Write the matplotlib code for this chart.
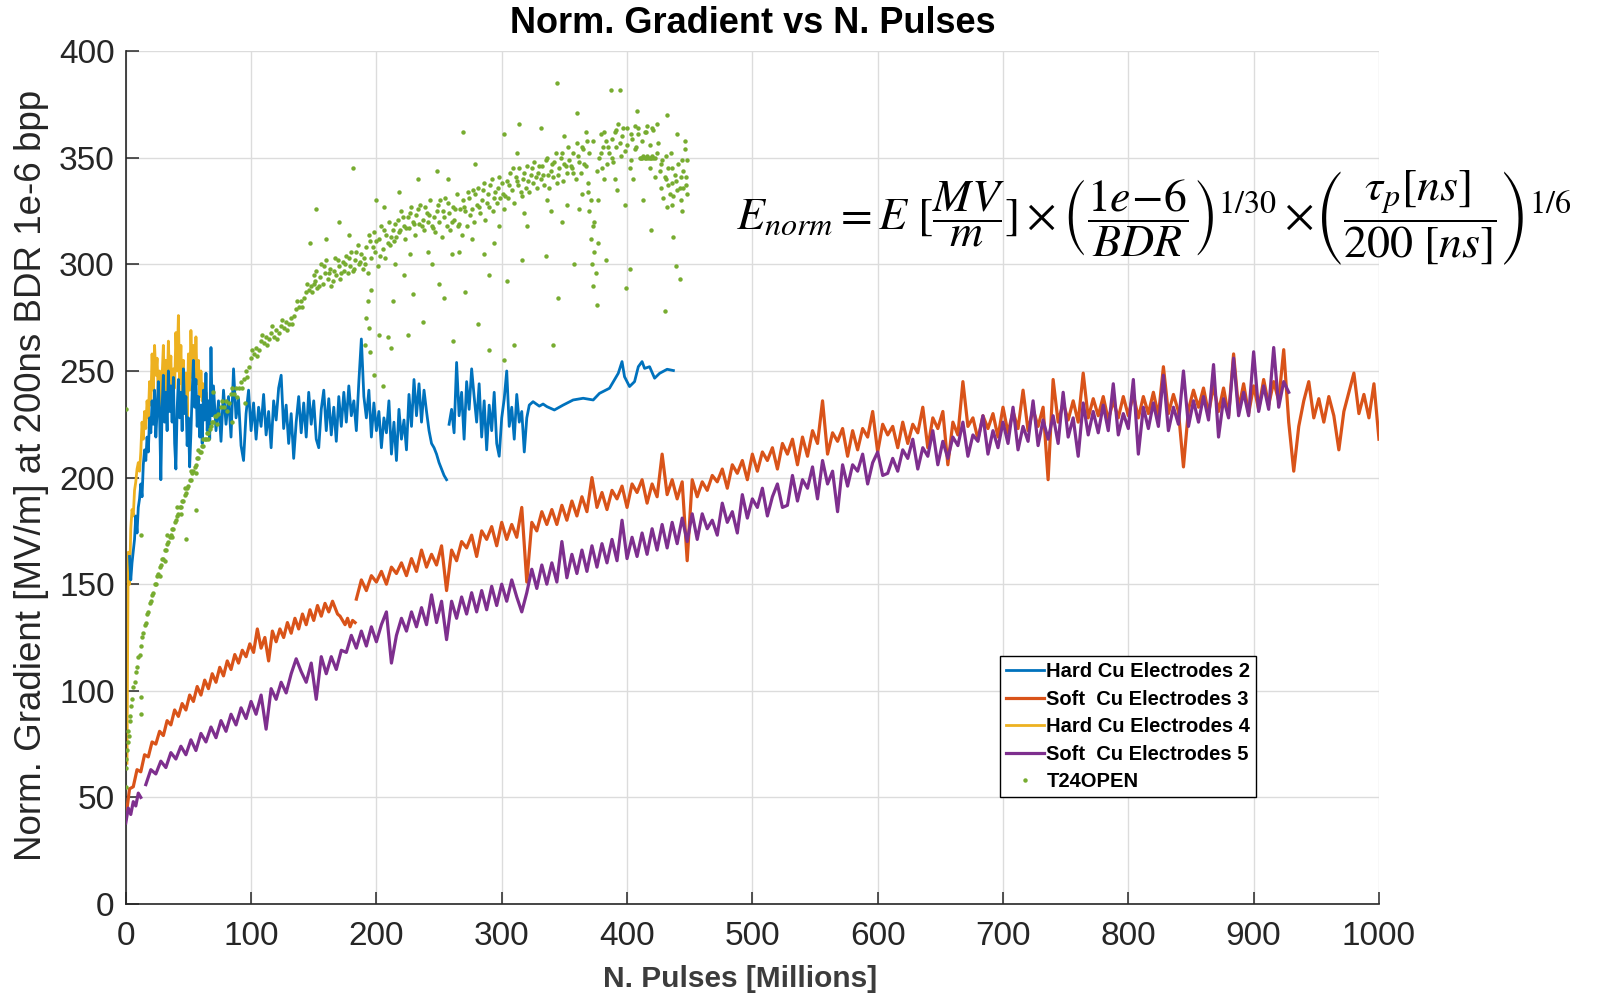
import numpy as np
import matplotlib
matplotlib.use("Agg")
import matplotlib.pyplot as plt

nan = np.nan

# ---- data (x in millions of pulses, y in MV/m) ----

# Hard Cu Electrodes 2
hard2_x = [3, 4, 5,
           7, 8, 9, 10, 11, 12, 13, 14, 15, 16, 17, 18, 19, 20, 21, 22, 23, 24, 25, 26, 27, 28, 29, 30,
           31, 32, 33, 34, 35, 36, 37, 38, 39, 40, 41, 42, 43, 44, 45, 46, 47, 48, 49, 50, 51, 52, 53,
           54, 55, 56, 57, 58, 59, 60, 61, 62, 63, 64, 65, 66, 67, 68, 69,
           70, 72, 74, 76, 78, 80, 82, 84, 86, 88, 90, 92, 94, 96, 98, 100, 102, 104, 106, 108,
           110, 112, 114, 116, 118, 120, 122, 124, 126, 128, 130, 132, 134, 136, 138, 140, 142, 144, 146, 148,
           150, 152, 154, 156, 158, 160, 162, 164, 166, 168, 170, 172, 174, 176, 178, 180, 182, 184, 186, 188,
           190, 192, 194, 196, 198, 200, 202, 204, 206, 208, 210, 212, 214, 216, 218, 220, 222, 224, 226, 228,
           230, 232, 234, 236, 238, 240,
           242, 244, 246, 248, 250, 252, 254, 256,
           nan,
           258, 260, 262, 264, 266, 268, 270, 272, 274, 276, 278, 280, 282, 284, 286, 288, 290, 292, 294, 296,
           298, 300, 302, 304, 306, 308, 310, 312, 314, 316, 318, 320,
           322, 325, 330, 333, 336, 342, 349, 357, 365, 373, 378, 386, 393, 396, 398, 402, 406, 409, 412, 414,
           418, 422, 426, 432, 437]
hard2_y = [163, 152, 160,
           171, 182, 174, 186, 190, 197, 191, 206, 213, 208, 219, 212, 228, 221, 236, 225, 241, 219, 231, 245, 229, 199, 233, 248,
           226, 240, 222, 250, 231, 243, 226, 247, 216, 204, 232, 246, 228, 240, 222, 251, 230, 238, 215, 228, 205, 221, 240,
           255, 233, 246, 224, 238, 219, 234, 216, 241, 227, 249, 222, 236, 218, 261, 229,
           243, 222, 236, 217, 241, 225, 238, 219, 251, 228, 237, 215, 208, 230, 241, 222, 235, 218, 233, 224,
           239, 220, 231, 214, 236, 227, 242, 248, 223, 234, 216, 230, 209, 226, 238, 221, 235, 219, 240, 225,
           236, 218, 214, 232, 241, 222, 237, 220, 233, 217, 238, 224, 240, 226, 243, 229, 236, 222, 245, 265,
           238, 228, 241, 219, 235, 222, 231, 214, 228, 221, 236, 211, 226, 208, 232, 218, 227, 213, 239, 224,
           246, 229, 244, 226, 241, 231,
           222, 216, 214, 211, 207, 204, 201, 199,
           nan,
           225, 232, 221, 254, 229, 240, 218, 245, 232, 251, 238, 226, 244, 219, 236, 213, 234, 222, 240, 216,
           210, 228, 237, 250, 224, 233, 218, 239, 226, 231, 212, 228,
           234, 235.6, 233.5, 234.5, 233.3, 231.7, 234, 236.4, 237.2, 236.4, 239.5, 241.9, 248.9, 254.4, 247.3, 242.7, 245, 252, 254.4, 251.2,
           252, 246.6, 248.9, 250.8, 250.2]

# Soft Cu Electrodes 3
soft3_x = [0, 3, 6, 9, 12, 15, 18, 21, 24, 27, 30, 33, 36, 39, 42, 45, 48, 51, 54, 57,
           60, 63, 66, 69, 72, 75, 78, 81, 84, 87, 90, 93, 96, 99, 102, 105, 108, 111, 114, 117,
           120, 123, 126, 129, 132, 135, 138, 141, 144, 147, 150, 153, 156, 159, 162, 165,
           167, 169, 171, 173, 175, 177, 179, 181, 183,
           nan,
           184, 188, 192, 196, 200, 204, 208, 212, 216, 220,
           224, 228, 232, 236, 240, 244, 248, 252, 256, 260,
           264, 268, 272, 276, 280, 284, 288, 292, 296, 300,
           304, 308, 312, 316, 320, 324, 328, 332, 336, 340,
           344, 348, 352, 356, 360, 364, 368, 372, 376, 380,
           384, 388, 392, 396, 400, 404, 408, 412, 416, 420,
           424, 428, 432, 436, 440, 444, 448, 452, 456, 460,
           464, 468, 472, 476, 480, 484, 488, 492, 496, 500,
           504, 508, 512, 516, 520, 524, 528, 532, 536, 540,
           544, 548, 552, 556, 560, 564, 568, 572, 576, 580,
           584, 588, 592, 596, 600, 604, 608, 612, 616, 620,
           624, 628, 632, 636, 640, 644, 648, 652, 656, 660,
           664, 668, 672, 676, 680, 684, 688, 692, 696, 700,
           704, 708, 712, 716, 720, 724, 728, 732, 736, 740,
           744, 748, 752, 756, 760, 764, 768, 772, 776, 780,
           784, 788, 792, 796, 800, 804, 808, 812, 816, 820,
           824, 828, 832, 836, 840, 844, 848, 852, 856, 860,
           864, 868, 872, 876, 880, 884, 888, 892, 896, 900,
           904, 908, 912, 916, 920, 924, 928, 932, 936, 940,
           944, 948, 952, 956, 960, 964, 968, 972, 976, 980,
           984, 988, 992, 996, 1000]
soft3_y = [40, 54, 55, 63, 62, 70, 69, 76, 75, 81, 79, 86, 84, 91, 88, 94, 91, 98, 95, 102,
           98, 105, 101, 108, 104, 111, 107, 114, 110, 117, 113, 119, 116, 122, 118, 129, 120, 125, 114, 128,
           123, 129, 125, 132, 127, 134, 129, 136, 131, 138, 133, 140, 135, 141, 137, 142,
           139, 136, 135, 133, 131, 134, 130, 133, 132,
           nan,
           143, 152, 147, 154, 151, 156, 150, 158, 155, 160,
           154, 162, 156, 166, 158, 164, 159, 168, 147, 166,
           161, 170, 167, 173, 163, 175, 171, 177, 168, 179,
           171, 178, 172, 186, 151, 179, 175, 184, 178, 185,
           178, 187, 180, 189, 182, 191, 184, 200, 186, 193,
           185, 194, 190, 196, 186, 197, 193, 199, 188, 197,
           191, 211, 192, 199, 190, 198, 161, 199, 191, 198,
           194, 201, 198, 204, 195, 206, 202, 208, 199, 211,
           203, 212, 208, 214, 204, 216, 211, 218, 206, 219,
           210, 222, 216, 236, 211, 221, 217, 223, 210, 222,
           213, 223, 219, 231, 212, 225, 220, 224, 214, 226,
           216, 225, 221, 233, 214, 228, 223, 231, 206, 226,
           220, 245, 224, 228, 218, 229, 223, 230, 219, 233,
           221, 231, 223, 241, 222, 232, 224, 233, 199, 246,
           226, 235, 227, 236, 226, 249, 228, 237, 229, 238,
           227, 236, 228, 238, 229, 239, 228, 238, 230, 240,
           229, 252, 230, 239, 231, 205, 232, 241, 233, 242,
           230, 243, 231, 242, 229, 258, 232, 244, 230, 243,
           232, 246, 234, 245, 236, 260, 226, 203, 224, 236,
           245, 228, 237, 226, 238, 229, 213, 231, 240, 249,
           230, 239, 228, 244, 218]

# Hard Cu Electrodes 4
hard4_x = [1, 1.5, 2, 3, 4, 5, 6, 7, 8, 9, 10, 11, 12, 13, 14, 15, 16, 17, 18, 19, 20,
           21, 22, 23, 24, 25, 26, 27, 28, 29, 30, 31, 32, 33, 34, 35, 36, 37, 38, 39, 40,
           41, 42, 43, 44, 45, 46, 47, 48, 49, 50, 51, 52, 53, 54, 55, 56, 57, 58, 59, 60,
           61, 62, 63, 64, 65]
hard4_y = [66, 120, 165, 150, 176, 185, 182, 194, 198, 204, 207, 203, 212, 226, 218, 231, 223, 236, 228, 245, 234,
           258, 241, 262, 248, 256, 238, 250, 233, 247, 262, 240, 255, 238, 264, 246, 257, 231, 251, 242, 268,
           250, 276, 244, 262, 236, 255, 233, 249, 228, 258, 241, 269, 247, 262, 240, 266, 244, 255, 238, 250,
           236, 244, 232, 240, 234]

# Soft Cu Electrodes 5
soft5_x = [0, 2, 4, 6, 8, 10, 12,
           nan,
           16, 20, 24, 28, 32, 36, 40, 44, 48, 52,
           56, 60, 64, 68, 72, 76, 80, 84, 88, 92,
           96, 100, 104, 108, 112, 116, 120, 124, 128, 132,
           136, 140, 144, 148, 152, 156, 160, 164, 168, 172,
           176, 180, 184, 188, 192, 196, 200, 204, 208, 212,
           216, 220, 224, 228, 232, 236, 240, 244, 248, 252,
           256, 260, 264, 268, 272, 276, 280, 284, 288, 292,
           296, 300, 304, 308, 312, 316, 320, 324, 328, 332,
           336, 340, 344, 348, 352, 356, 360, 364, 368, 372,
           376, 380, 384, 388, 392, 396, 400, 404, 408, 412,
           416, 420, 424, 428, 432, 436, 440, 444, 448, 452,
           456, 460, 464, 468, 472, 476, 480, 484, 488, 492,
           496, 500, 504, 508, 512, 516, 520, 524, 528, 532,
           536, 540, 544, 548, 552, 556, 560, 564, 568, 572,
           576, 580, 584, 588, 592, 596, 600, 604, 608, 612,
           616, 620, 624, 628, 632, 636, 640, 644, 648, 652,
           656, 660, 664, 668, 672, 676, 680, 684, 688, 692,
           696, 700, 704, 708, 712, 716, 720, 724, 728, 732,
           736, 740, 744, 748, 752, 756, 760, 764, 768, 772,
           776, 780, 784, 788, 792, 796, 800, 804, 808, 812,
           816, 820, 824, 828, 832, 836, 840, 844, 848, 852,
           856, 860, 864, 868, 872, 876, 880, 884, 888, 892,
           896, 900, 904, 908, 912, 916, 920, 924, 928]
soft5_y = [38, 45, 42, 48, 46, 52, 50,
           nan,
           56, 63, 61, 67, 64, 71, 68, 74, 70, 77,
           72, 80, 76, 83, 78, 86, 81, 89, 84, 92,
           87, 95, 89, 98, 82, 101, 96, 104, 99, 108,
           115, 109, 104, 113, 96, 116, 108, 116, 110, 119,
           118, 126, 120, 128, 121, 130, 123, 131, 137, 113,
           126, 134, 128, 137, 130, 139, 131, 145, 132, 142,
           124, 142, 134, 144, 136, 146, 137, 147, 138, 149,
           140, 150, 142, 152, 144, 137, 146, 157, 148, 159,
           150, 160, 151, 170, 153, 164, 155, 166, 156, 168,
           158, 169, 160, 171, 161, 180, 162, 172, 163, 174,
           164, 176, 166, 178, 167, 179, 169, 181, 170, 183,
           171, 183, 176, 180, 173, 188, 179, 184, 174, 192,
           181, 190, 186, 195, 182, 191, 197, 186, 187, 201,
           189, 199, 195, 205, 190, 208, 197, 203, 184, 206,
           196, 206, 203, 211, 197, 207, 212, 201, 202, 209,
           203, 213, 209, 218, 204, 214, 210, 222, 206, 217,
           209, 219, 215, 226, 210, 220, 217, 229, 211, 222,
           214, 226, 216, 233, 213, 224, 217, 236, 215, 227,
           218, 229, 216, 240, 219, 228, 210, 235, 220, 231,
           221, 234, 222, 244, 220, 230, 223, 246, 211, 233,
           223, 235, 224, 248, 222, 233, 225, 250, 224, 236,
           226, 238, 227, 253, 219, 237, 228, 256, 229, 240,
           229, 259, 231, 243, 232, 261, 233, 245, 240]

# T24OPEN (scattered points)
t24_pts = [
    (0, 55), (0, 64), (0.5, 68), (1, 72), (1.5, 76), (2, 81), (2.5, 79), (3, 86), (3.5, 88), (4, 93),
    (5, 96), (6, 102), (7, 104), (8, 109), (9, 111), (10, 116), (11, 117), (12, 121), (13, 125), (14, 127),
    (15, 131), (16, 132), (17, 136), (18, 137), (19, 141), (20, 142), (21, 145), (22, 146), (23, 150), (24, 150),
    (25, 154), (26, 155), (27, 158), (28, 159), (29, 162), (30, 162), (31, 166), (32, 166), (33, 169), (34, 170),
    (35, 172), (36, 173), (37, 176), (38, 176), (39, 179), (40, 180), (41, 182), (42, 183), (43, 186), (44, 186),
    (45, 189), (46, 189), (47, 192), (48, 193), (49, 195), (50, 196), (51, 199), (52, 199), (53, 202), (54, 203),
    (55, 205), (56, 206), (57, 209), (58, 209), (59, 212), (60, 212), (61, 215), (62, 215), (63, 218), (64, 218),
    (65, 221), (66, 221), (67, 223), (68, 224), (69, 226), (70, 226), (72, 229), (74, 230), (76, 233), (78, 233),
    (80, 236), (82, 235), (84, 239), (86, 239), (88, 242), (90, 242), (92, 245), (94, 246), (96, 250), (98, 252),
    (100, 256), (102, 258), (104, 261), (106, 260), (108, 264), (110, 263), (112, 266), (114, 265), (116, 268), (118, 266),
    (120, 269), (122, 268), (124, 271), (126, 270), (128, 273), (130, 272), (132, 275), (134, 276), (136, 279), (138, 280),
    (140, 283), (142, 284), (144, 287), (146, 288), (148, 290), (150, 291),
    (31, 161), (33, 173), (37, 172), (41, 186), (44, 183), (47, 195), (52, 203), (56, 202), (58, 213), (62, 218),
    (66, 218), (71, 229), (73, 225), (77, 236), (81, 231), (85, 242), (89, 238), (93, 242), (97, 247), (101, 260),
    (105, 257), (109, 267), (113, 262), (117, 271), (121, 265), (125, 274), (129, 269), (133, 272), (137, 283), (141, 280),
    (145, 291), (149, 287),
    (0, 232), (12, 97), (12, 89), (12, 173), (27, 154), (48, 171), (56, 185), (85, 226), (95, 235), (70, 240),
    (151, 292), (152, 297), (153, 289), (155, 294), (156, 300), (157, 291), (159, 296), (160, 302), (161, 293), (163, 298),
    (164, 290), (166, 297), (167, 303), (168, 295), (170, 299), (171, 293), (173, 301), (174, 297), (176, 304), (177, 296),
    (179, 299), (180, 306), (182, 298), (183, 302), (185, 309), (186, 300), (188, 305), (189, 298), (152, 326), (147, 310),
    (181, 345), (170, 320), (160, 312), (178, 314),
    (191, 300), (192, 308), (193, 296), (195, 311), (196, 303), (198, 315), (199, 306), (201, 299), (202, 312), (204, 318),
    (205, 307), (207, 303), (208, 314), (210, 320), (211, 309), (213, 316), (214, 311), (192, 275), (191, 262), (195, 259),
    (198, 248), (202, 267), (205, 243), (209, 266), (212, 261), (193, 283), (194, 270), (196, 288), (200, 330), (206, 327),
    (213, 283),
    (216, 313), (217, 321), (219, 316), (220, 325), (222, 318), (223, 312), (225, 322), (226, 317), (228, 327), (229, 320),
    (231, 314), (232, 323), (234, 319), (235, 328), (237, 321), (238, 316), (240, 324), (241, 320), (243, 330), (244, 318),
    (225, 267), (229, 286), (237, 273), (218, 334), (233, 340), (227, 305), (241, 306),
    (246, 322), (247, 315), (249, 328), (250, 320), (252, 313), (253, 325), (255, 331), (256, 318), (258, 324), (259, 316),
    (261, 327), (262, 321), (264, 333), (265, 318), (267, 326), (268, 314), (269, 330), (250, 291), (254, 284), (261, 264),
    (266, 306), (257, 340), (269, 362), (248, 344),
    (271, 325), (272, 318), (274, 331), (275, 323), (277, 335), (278, 320), (280, 328), (281, 336), (283, 324), (284, 330),
    (286, 338), (287, 321), (289, 333), (290, 327), (292, 340), (293, 325), (295, 334), (296, 329), (298, 341), (299, 331),
    (271, 287), (281, 272), (290, 260), (290, 295), (279, 347), (294, 310), (286, 305),
    (301, 333), (302, 326), (304, 339), (305, 331), (307, 343), (308, 335), (310, 329), (311, 341), (313, 337), (314, 345),
    (316, 332), (317, 340), (319, 336), (320, 346), (322, 334), (323, 342), (325, 338), (326, 348), (328, 336), (329, 343),
    (302, 255), (304, 292), (310, 262), (316, 302), (314, 366), (302, 361), (320, 318), (312, 352),
    (331, 340), (332, 346), (334, 337), (335, 349), (337, 342), (338, 336), (340, 347), (341, 341), (343, 352), (344, 338),
    (346, 345), (347, 350), (349, 339), (350, 347), (352, 343), (353, 355), (355, 346), (331, 364), (335, 304), (341, 262),
    (344, 385), (345, 284), (339, 325), (350, 360), (348, 320),
    (356, 345), (357, 352), (359, 340), (360, 357), (362, 348), (363, 343), (365, 354), (366, 347), (368, 358), (369, 338),
    (370, 325), (371, 312), (372, 300), (373, 318), (374, 306), (375, 296), (376, 281), (377, 330), (378, 350), (379, 361),
    (380, 345), (381, 355), (382, 340), (383, 358), (384, 347), (358, 300), (383, 302), (360, 371), (364, 333), (367, 362),
    (386, 352), (387, 382), (388, 359), (389, 348), (390, 362), (391, 355), (393, 366), (394, 382), (395, 351), (396, 360),
    (398, 353), (399, 289), (400, 364), (402, 298), (403, 349), (404, 359), (406, 365), (407, 355), (409, 361), (410, 350),
    (392, 335), (398, 328), (405, 340), (408, 372),
    (411, 350), (412, 350), (413, 351), (414, 350), (415, 350), (416, 351), (417, 350), (418, 350), (419, 350), (420, 351),
    (421, 350), (422, 350), (414, 362), (416, 365), (418, 345), (420, 364), (422, 341), (424, 366), (413, 330), (419, 316),
    (426, 344), (427, 336), (428, 349), (429, 331), (430, 278), (431, 340), (432, 370), (433, 345), (434, 333), (435, 352),
    (436, 338), (437, 313), (438, 342), (439, 299), (440, 335), (441, 347), (442, 293), (443, 330), (444, 349), (445, 336),
    (446, 358), (447, 341), (448, 333), (446, 354), (440, 361), (432, 327), (436, 328), (444, 325),
    (150, 295), (154, 290), (158, 299), (162, 296), (165, 292), (169, 302), (172, 296), (175, 300), (178, 303), (181, 297),
    (184, 306), (187, 301), (190, 303), (194, 314), (197, 308), (200, 311), (203, 304), (206, 316), (209, 310), (212, 313),
    (215, 319), (218, 315), (221, 322), (224, 317), (227, 324), (230, 319), (233, 326), (236, 318), (239, 327), (242, 323),
    (245, 317), (248, 325), (251, 330), (254, 322), (257, 329), (260, 320), (263, 326), (266, 319), (270, 327), (273, 334),
    (276, 326), (279, 333), (282, 327), (285, 335), (288, 329), (291, 337), (294, 331), (297, 336), (300, 338), (303, 332),
    (306, 337), (309, 345), (312, 339), (315, 334), (318, 343), (321, 339), (324, 345), (327, 341), (330, 346), (333, 342),
    (336, 350), (339, 344), (342, 348), (345, 342), (348, 352), (351, 346), (354, 349), (357, 343), (361, 351), (364, 355),
    (367, 346), (370, 352), (373, 358), (376, 344), (379, 352), (382, 362), (385, 355), (388, 350), (391, 363), (394, 357),
    (397, 364), (400, 356), (403, 361), (406, 354), (409, 364), (412, 358), (415, 362), (418, 356), (421, 363), (424, 352),
    (427, 347), (430, 341), (433, 337), (436, 345), (439, 339), (442, 336), (445, 344), (448, 349), (447, 337), (443, 341),
    (437, 332), (431, 351), (425, 357), (371, 330), (374, 320), (373, 290), (377, 310), (369, 334),
    (215, 300), (222, 295), (244, 300), (260, 305), (276, 312), (298, 318), (318, 324), (336, 330), (352, 328), (362, 326),
    (390, 340), (402, 345),
]
t24_x = [p[0] for p in t24_pts]
t24_y = [p[1] for p in t24_pts]

labels = ["Hard Cu Electrodes 2", "Soft  Cu Electrodes 3", "Hard Cu Electrodes 4",
          "Soft  Cu Electrodes 5", "T24OPEN"]
xticks = [0, 100, 200, 300, 400, 500, 600, 700, 800, 900, 1000]
yticks = [0, 50, 100, 150, 200, 250, 300, 350, 400]

# MATLAB default colour order
c_blue, c_orange, c_yellow, c_purple, c_green = "#0072BD", "#D95319", "#EDB120", "#7E2F8E", "#77AC30"
axcol = "#262626"

plt.rcParams["font.family"] = ["Liberation Sans", "DejaVu Sans"]
plt.rcParams["mathtext.fontset"] = "stix"

fig = plt.figure(figsize=(16.04, 10.01), dpi=100)
ax = fig.add_axes([0.0784, 0.0969, 0.7813, 0.852])

l2, = ax.plot(hard2_x, hard2_y, color=c_blue, lw=2.0, zorder=3)
l3, = ax.plot(soft3_x, soft3_y, color=c_orange, lw=2.3, zorder=3)
l4, = ax.plot(hard4_x, hard4_y, color=c_yellow, lw=2.0, zorder=2)
l5, = ax.plot(soft5_x, soft5_y, color=c_purple, lw=2.3, zorder=4)
l6, = ax.plot(t24_x, t24_y, ls="none", marker="o", ms=3.2, mec="none", color=c_green, zorder=5)

ax.set_xlim(0, 1000)
ax.set_ylim(0, 400)
ax.set_xticks(xticks)
ax.set_yticks(yticks)
ax.grid(True, color="#dcdcdc", lw=1.0)
ax.set_axisbelow(True)
for s in ["top", "right"]:
    ax.spines[s].set_visible(False)
for s in ["left", "bottom"]:
    ax.spines[s].set_color(axcol)
    ax.spines[s].set_linewidth(1.2)
ax.tick_params(direction="in", length=9, width=1.1, colors=axcol, labelsize=24)
ax.tick_params(axis="x", pad=12)
ax.tick_params(axis="y", pad=8)

ax.set_ylabel("Norm. Gradient [MV/m] at 200ns BDR 1e-6 bpp", fontsize=26.5, color=axcol)
ax.yaxis.set_label_coords(-0.061, 0.502)
ax.set_xlabel("N. Pulses [Millions]", fontsize=21.5, fontweight="bold", color="#3c3c3c")
ax.xaxis.set_label_coords(0.49, -0.072)

fig.text(0.4695, 0.977, "Norm. Gradient vs N. Pulses", fontsize=26, fontweight="bold",
         ha="center", va="center", color="black")

fig.text(0.459, 0.782,
         r"$E_{norm} = E\ [\dfrac{MV}{m}]\times\left(\dfrac{1e\!-\!6}{BDR}\right)^{1/30}"
         r"\times\!\left(\dfrac{\tau_p[ns]}{200\ [ns]}\right)^{1/6}$",
         fontsize=33, ha="left", va="center", color="black")

leg = ax.legend([l2, l3, l4, l5, l6], labels, loc="lower left", bbox_to_anchor=(0.6976, 0.1254),
                prop=dict(weight="bold", size=14.5), fancybox=False, edgecolor="black",
                framealpha=1, handlelength=1.9, handletextpad=0.1, borderpad=0.3,
                labelspacing=0.42, borderaxespad=0, markerscale=1.0)
leg.get_frame().set_linewidth(1.0)

fig.savefig("out.png", dpi=100)
